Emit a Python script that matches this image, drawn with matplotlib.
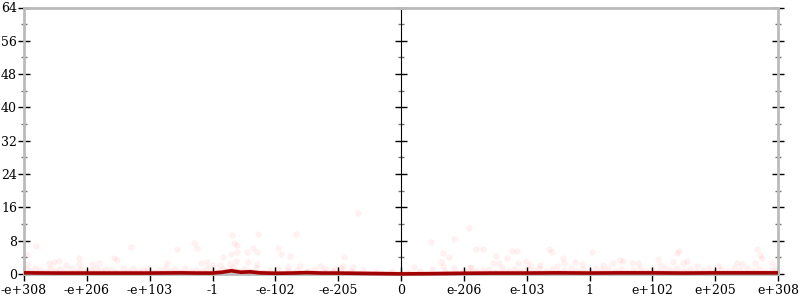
import numpy as np
import matplotlib
matplotlib.use('Agg')
import matplotlib.pyplot as plt

# positions 0..12 along the float line, labels below
tick_labels = ['-e+308', '-e+206', '-e+103', '-1', '-e-102', '-e-205', '0',
               'e-206', 'e-103', '1', 'e+102', 'e+205', 'e+308']

# dense band of sampled points near zero error
band_x = [0.03, 0.1, 0.18, 0.25, 0.33, 0.42, 0.5, 0.58, 0.66, 0.75,
          0.83, 0.9, 0.98, 1.06, 1.15, 1.23, 1.31, 1.4, 1.48, 1.57,
          1.65, 1.73, 1.82, 1.9, 1.98, 2.07, 2.15, 2.24, 2.32, 2.4,
          2.49, 2.57, 2.66, 2.74, 2.83, 2.91, 3.0, 3.08, 3.17, 3.25,
          3.33, 3.42, 3.5, 3.6, 3.7, 3.8, 3.92, 4.05, 4.2, 4.35,
          4.5, 4.62, 4.78, 4.9, 5.05, 5.2, 5.4, 5.6, 5.85, 6.1,
          6.3, 6.5, 6.7, 6.85, 7.0, 7.1, 7.2, 7.3, 7.4, 7.5,
          7.6, 7.7, 7.8, 7.9, 8.0, 8.1, 8.2, 8.3, 8.4, 8.5,
          8.6, 8.7, 8.8, 8.9, 9.0, 9.1, 9.2, 9.3, 9.4, 9.5,
          9.6, 9.7, 9.8, 9.9, 10.0, 10.1, 10.2, 10.3, 10.4, 10.5,
          10.6, 10.7, 10.8, 10.9, 11.0, 11.1, 11.2, 11.3, 11.4, 11.5,
          11.6, 11.7, 11.8, 11.9, 11.97]
band_y = [1.2, 0.6, 1.5, 0.9, 0.4, 1.3, 0.7, 1.1, 0.5, 1.4,
          0.8, 1.2, 0.4, 1.0, 1.5, 0.6, 1.1, 0.9, 0.5, 1.3,
          0.7, 1.4, 0.6, 1.0, 1.2, 0.4, 0.9, 1.5, 0.7, 1.1,
          0.5, 1.3, 0.8, 1.0, 0.6, 1.4, 0.9, 0.5, 1.2, 0.7,
          1.6, 0.8, 1.1, 0.6, 1.3, 0.5, 0.9, 1.2, 0.6, 1.0,
          0.7, 1.1, 0.5, 0.8, 1.3, 0.6, 0.9, 0.4, 0.7, 0.5,
          0.8, 1.1, 0.6, 1.3, 0.9, 1.5, 0.7, 1.0, 1.2, 0.5,
          1.4, 0.8, 1.1, 0.6, 1.3, 0.9, 1.5, 0.7, 1.2, 0.5,
          1.0, 1.4, 0.8, 1.1, 0.6, 1.3, 0.9, 1.5, 0.7, 1.2,
          0.5, 1.0, 1.4, 0.8, 1.1, 0.6, 1.3, 0.9, 1.5, 0.7,
          1.2, 0.5, 1.0, 1.4, 0.8, 1.1, 0.6, 1.3, 0.9, 1.5,
          0.7, 1.2, 0.5, 1.0, 1.4]

# scattered points with higher error
out_x = [0.19, 1.70, 2.71, 2.43, 2.75, 0.05, 0.88, 1.43, 0.40, 0.48,
         0.56, 0.67, 1.08, 1.19, 2.28, 2.82, 2.91, 0.05, 0.88, 1.48,
         5.32, 3.31, 3.72, 4.33, 3.34, 3.39, 3.65, 4.04, 3.55, 3.71,
         3.39, 3.29, 4.09, 3.17, 4.23, 5.09, 3.57, 3.37, 3.28, 3.12,
         3.01, 3.71, 4.39, 4.71, 4.79, 4.95, 5.08, 5.24, 4.20,
         7.08, 6.48, 6.84, 7.19, 7.31, 6.67, 6.76, 6.64, 7.51, 7.77,
         7.85, 7.69, 7.56, 7.99, 8.36, 8.40, 8.58, 8.59, 8.77, 8.88,
         6.21, 6.67, 7.11, 7.46, 7.86, 8.05, 8.21, 8.48,
         9.04, 10.42, 10.39, 11.67, 11.71, 11.75, 9.49, 9.53, 10.09, 10.55,
         10.49, 10.33, 9.68, 9.37, 9.77, 9.22, 11.35, 11.43, 11.63, 11.91,
         10.12, 10.71, 11.05]
out_y = [6.7, 6.5, 7.4, 6.0, 6.2, 4.6, 3.8, 3.9, 2.7, 2.9,
         3.2, 2.2, 2.4, 2.6, 2.6, 2.7, 2.9, 2.4, 2.4, 3.4,
         14.6, 9.4, 9.6, 9.6, 7.4, 7.0, 6.2, 6.2, 5.3, 5.3,
         5.3, 4.8, 4.8, 4.1, 4.3, 4.1, 2.9, 3.1, 2.4, 2.2,
         2.2, 2.4, 1.9, 1.9, 1.4, 1.2, 1.9, 1.7, 1.7,
         11.0, 7.7, 8.4, 6.0, 6.0, 5.0, 4.1, 2.9, 4.3, 5.5,
         5.5, 3.8, 2.6, 3.1, 6.0, 5.3, 3.8, 2.6, 2.9, 2.4,
         1.7, 1.9, 1.7, 2.6, 2.6, 2.2, 2.2, 1.9,
         5.3, 5.5, 5.0, 6.0, 4.6, 3.8, 3.4, 3.1, 3.6, 3.1,
         2.6, 2.9, 2.6, 2.6, 2.6, 2.2, 2.6, 2.4, 2.6, 2.6,
         2.2, 1.9, 1.9]

# averaged error line
line_x = [0, 0.5, 1, 1.5, 2, 2.5, 2.75, 3, 3.15, 3.3, 3.45, 3.6, 3.75, 4, 4.25,
          4.5, 4.75, 5, 5.25, 5.5, 5.75, 6, 6.5, 7, 7.5, 8, 8.5, 9, 9.5,
          10, 10.5, 11, 11.5, 12]
line_y = [0.25, 0.2, 0.2, 0.2, 0.2, 0.25, 0.2, 0.2, 0.4, 0.75, 0.4, 0.5, 0.25, 0.15, 0.2,
          0.3, 0.2, 0.2, 0.15, 0.1, 0.05, 0.0, 0.05, 0.15, 0.2, 0.2, 0.25, 0.2, 0.25,
          0.25, 0.2, 0.25, 0.25, 0.25]

plt.rcParams['font.family'] = 'DejaVu Serif'
fig = plt.figure(figsize=(8, 3), dpi=100)
ax = fig.add_axes([0.03, 0.087, 0.9425, 0.888])

ax.scatter(band_x, band_y, s=22, color='red', alpha=0.06, linewidths=0)
ax.scatter(out_x, out_y, s=22, color='red', alpha=0.055, linewidths=0)
ax.fill_between(line_x, 0, np.array(line_y) + 0.7, color='red', alpha=0.14, linewidth=0)
ax.plot(line_x, line_y, color='#a20000', lw=2.6, solid_capstyle='butt', clip_on=False, zorder=5)

ax.set_xlim(0, 12)
ax.set_ylim(0, 64)
ax.set_xticks(range(13))
ax.set_xticklabels(tick_labels, fontsize=9)
ax.set_yticks(range(0, 65, 8))
ax.set_yticks(range(4, 64, 8), minor=True)
ax.tick_params(axis='y', labelsize=9, direction='inout', length=8, width=1, pad=1)
ax.tick_params(axis='y', which='minor', direction='inout', length=5, width=1, color='#777777')
ax.tick_params(axis='x', direction='inout', length=10, width=1, pad=2)
ax.tick_params(axis='y', right=True, which='both')

for s in ax.spines.values():
    s.set_color('#bbbbbb')
    s.set_linewidth(2)

mid = ax.secondary_yaxis(0.5)
mid.set_yticks(range(0, 65, 8))
mid.set_yticks(range(4, 64, 8), minor=True)
mid.set_yticklabels([])
mid.tick_params(direction='inout', length=8, width=1)
mid.tick_params(which='minor', direction='inout', length=5, width=1, color='#777777')
mid.spines['left'].set_color('#bbbbbb')
mid.spines['left'].set_linewidth(2)

fig.savefig('out.png', dpi=100)
